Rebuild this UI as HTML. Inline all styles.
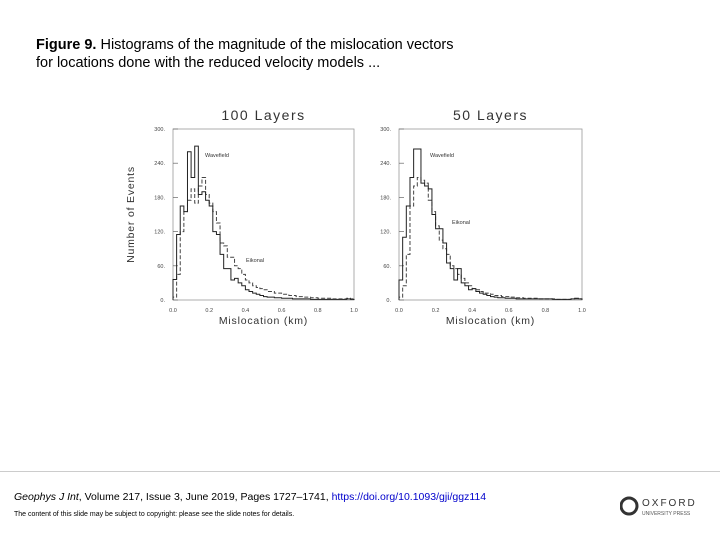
<!DOCTYPE html>
<html><head><meta charset="utf-8"><style>
body{margin:0;width:720px;height:540px;background:#fff;font-family:"Liberation Sans",sans-serif;position:relative;overflow:hidden}
.t{position:absolute;left:36px;top:36px;font-size:14.5px;line-height:18px;color:#000}
.sep{position:absolute;left:0;top:471px;width:720px;height:1px;background:#ccc}
.cite{position:absolute;left:14px;top:491px;font-size:10.5px;color:#000}
.cite a{color:#00c}
.copy{position:absolute;left:14px;top:511px;font-size:7px;color:#000}
.ox{position:absolute;left:620px;top:495px}
</style></head><body>
<div class="t"><b>Figure 9.</b> Histograms of the magnitude of the mislocation vectors<br>for locations done with the reduced velocity models ...</div>
<svg id="chart" width="720" height="540" style="position:absolute;left:0;top:0"></svg>
<div class="sep"></div>
<div class="cite"><i>Geophys J Int</i>, Volume 217, Issue 3, June 2019, Pages 1727–1741, <a>https://doi.org/10.1093/gji/ggz114</a></div>
<div class="copy">The content of this slide may be subject to copyright: please see the slide notes for details.</div>
<div class="ox"><svg width="90" height="24"><circle cx="9" cy="11" r="8" fill="none" stroke="#333" stroke-width="3"/><text x="22" y="11" font-size="10" letter-spacing="2" fill="#333" font-family="Liberation Sans">OXFORD</text><text x="22" y="20" font-size="5" fill="#555" font-family="Liberation Sans">UNIVERSITY PRESS</text></svg></div>
<script>
const xTicks=["0.0","0.2","0.4","0.6","0.8","1.0"];
const yTicks=[0,60,120,180,240,300];
const yTickLabels=["0.","60.","120.","180.","240.","300."];
const panelTitles=["100 Layers","50 Layers"];
const wave100=[36,115,165,155,260,215,270,185,190,175,165,120,115,80,55,55,35,38,30,25,18,15,12,10,8,6,5,5,4,4,3,3,3,2,2,2,2,2,1,1,1,1,1,1,1,1,1,1,2,1];
const eik100=[5,45,120,155,175,195,170,200,215,185,170,155,135,100,95,75,75,60,55,45,35,30,25,22,20,18,15,15,12,12,10,10,8,8,6,6,5,5,4,4,3,3,3,3,2,2,2,2,3,2];
const wave50=[35,110,165,215,265,265,205,200,195,150,125,125,100,65,55,35,55,30,25,18,20,15,12,10,8,6,5,4,4,3,3,3,2,2,2,2,2,2,2,2,2,2,1,1,1,1,1,2,3,2];
const eik50=[5,25,80,165,200,215,210,205,175,155,130,105,90,80,60,55,45,38,30,25,20,18,15,12,12,10,8,8,6,6,5,5,4,4,3,3,3,3,2,2,2,2,2,1,1,1,1,2,2,2];
const svg=document.getElementById('chart');const NS='http://www.w3.org/2000/svg';
function mk(t,a){const e=document.createElementNS(NS,t);for(const k in a)e.setAttribute(k,a[k]);svg.appendChild(e);return e;}
function panel(x0,x1,wave,eik,title,idx,showY,wl,el){
 const y0=300,y1=129;
 const sx=v=>x0+(x1-x0)*v, sy=v=>y0-(y0-y1)*v/300;
 let f=mk('rect',{x:x0,y:y1,width:x1-x0,height:y0-y1,fill:'none',stroke:'#999','stroke-width':0.8});
 
 
 let tt=mk('text',{x:(x0+x1)/2,y:120,'text-anchor':'middle','font-size':14,'letter-spacing':1.5,fill:'#333'});tt.textContent=title;
 
 
 yTicks.forEach((v,i)=>{const l=mk('line',{x1:x0,x2:x0+5,y1:sy(v),y2:sy(v),stroke:'#666','stroke-width':0.7});
  
  
  const t=mk('text',{x:x0-8,y:sy(v)+2,'text-anchor':'end','font-size':5.5,fill:'#444'});t.textContent=yTickLabels[i];
  
  });
 xTicks.forEach(s=>{const t=mk('text',{x:sx(+s),y:312,'text-anchor':'middle','font-size':5.5,fill:'#444'});t.textContent=s;
  
  });
 const xt=mk('text',{x:(x0+x1)/2,y:324,'text-anchor':'middle','font-size':10.5,'letter-spacing':0.8,fill:'#333'});xt.textContent='Mislocation (km)';
 
 
 if(showY){const yt=mk('text',{x:0,y:0,'text-anchor':'middle','font-size':10.5,'letter-spacing':0.8,fill:'#333',transform:`translate(134,${(y0+y1)/2}) rotate(-90)`});yt.textContent='Number of Events';
  
  }
 function step(arr,dash,col,name){let d=`M${sx(0)},${sy(0)}`;const w=1/arr.length;
  arr.forEach((v,i)=>{d+=` L${sx(i*w)},${sy(v)} L${sx((i+1)*w)},${sy(v)}`;});d+=` L${sx(1)},${sy(0)}`;
  const p=mk('path',{d:d,fill:'none',stroke:col,'stroke-width':1,'stroke-dasharray':dash});
  
  }
 step(eik,'4,2','#444','eikonal-histogram-'+idx);
 step(wave,'none','#222','wavefield-histogram-'+idx);
 const a=mk('text',{x:wl[0],y:wl[1],'font-size':5.5,fill:'#333'});a.textContent='Wavefield';
 
 
 const b=mk('text',{x:el[0],y:el[1],'font-size':5.5,fill:'#333'});b.textContent='Eikonal';
 
 
}
panel(173,354,wave100,eik100,panelTitles[0],1,true,[205,157],[246,262]);
panel(399,582,wave50,eik50,panelTitles[1],2,false,[430,157],[452,224]);
</script>
</body></html>
